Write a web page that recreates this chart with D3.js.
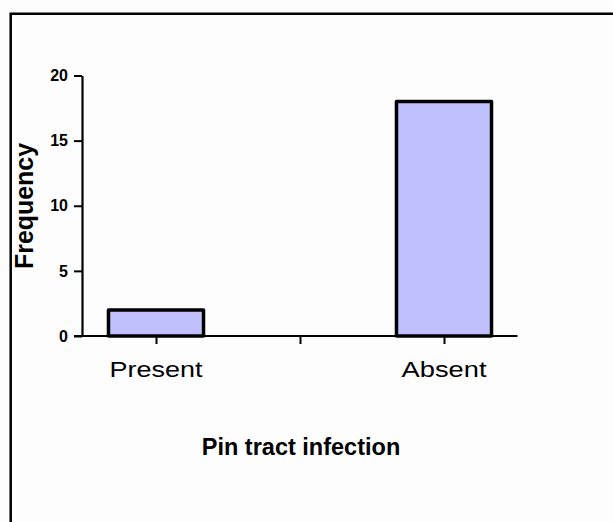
<!DOCTYPE html>
<html>
<head>
<meta charset="utf-8">
<script src="https://cdn.jsdelivr.net/npm/d3@7"></script>
<style>
  html, body { margin: 0; padding: 0; background: #fdfdfd; }
  svg { display: block; font-family: Arial, "Liberation Sans", sans-serif; }
</style>
</head>
<body>
<div id="chart"></div>
<script>
// data
const categories = ["Present", "Absent"];
const slots = [0, 2];            // category slot on the x axis (slot 1 is the gap tick)
const frequency = [2, 18];
const yTicks = [0, 5, 10, 15, 20];

const width = 613, height = 522;
const font = "Arial, 'Liberation Sans', sans-serif";

const svg = d3.select("#chart").append("svg")
    .attr("width", width)
    .attr("height", height);

// frame (only top + left show in the picture)
svg.append("path")
    .attr("d", `M10.7,${height} V13.7 H${width}`)
    .attr("fill", "none")
    .attr("stroke", "#000")
    .attr("stroke-width", 2.5);

const x = d3.scaleLinear().domain([0, 2]).range([156, 444]);
const y = d3.scaleLinear().domain([0, 20]).range([336, 75.5]);
const barW = x(0.66) - x(0);

// bars
svg.append("g")
  .selectAll("rect")
  .data(frequency)
  .join("rect")
    .attr("x", (d, i) => x(slots[i]) - barW / 2)
    .attr("y", d => y(d))
    .attr("width", barW)
    .attr("height", d => y(0) - y(d))
    .attr("fill", "#c0c0ff")
    .attr("stroke", "#000")
    .attr("stroke-width", 3.5)
    .attr("stroke-linejoin", "round");

// y axis
const yAxis = svg.append("g")
    .attr("transform", `translate(82,0)`)
    .call(d3.axisLeft(y).tickValues(yTicks).tickSize(8).tickPadding(6).tickSizeOuter(0))
    .attr("font-family", font)
    .attr("font-size", 16)
    .attr("font-weight", "bold");
yAxis.select(".domain").attr("stroke-width", 2.2);
yAxis.selectAll(".tick line").attr("stroke-width", 2);
yAxis.selectAll(".tick text").attr("fill", "#000");

// x axis
const xAxis = svg.append("g")
    .attr("transform", `translate(0,${y(0)})`)
    .call(d3.axisBottom(x).tickValues([0, 1, 2]).tickSize(8).tickFormat(() => "").tickSizeOuter(0));
xAxis.select(".domain")
    .attr("d", `M${x(-0.57)},0 H${x(2.51)}`)
    .attr("stroke-width", 2.2);
xAxis.selectAll(".tick line").attr("stroke-width", 2);

// category labels (picture has them stretched a bit)
svg.append("g")
    .attr("font-family", font)
  .selectAll("text")
  .data(categories)
  .join("text")
    .attr("x", (d, i) => x(slots[i]))
    .attr("y", 376.5)
    .attr("text-anchor", "middle")
    .attr("font-size", 22.5)
    .attr("fill", "#000")
    .attr("textLength", (d, i) => i ? 85 : 93)
    .attr("lengthAdjust", "spacingAndGlyphs")
    .text(d => d);

// axis titles
svg.append("text")
    .attr("x", 301)
    .attr("y", 455)
    .attr("text-anchor", "middle")
    .attr("font-size", 23.5)
    .attr("font-weight", "bold")
    .text("Pin tract infection");

svg.append("text")
    .attr("transform", "translate(33,206) rotate(-90)")
    .attr("text-anchor", "middle")
    .attr("font-size", 26)
    .attr("font-weight", "bold")
    .attr("textLength", 126)
    .attr("lengthAdjust", "spacingAndGlyphs")
    .text("Frequency");
</script>
</body>
</html>
